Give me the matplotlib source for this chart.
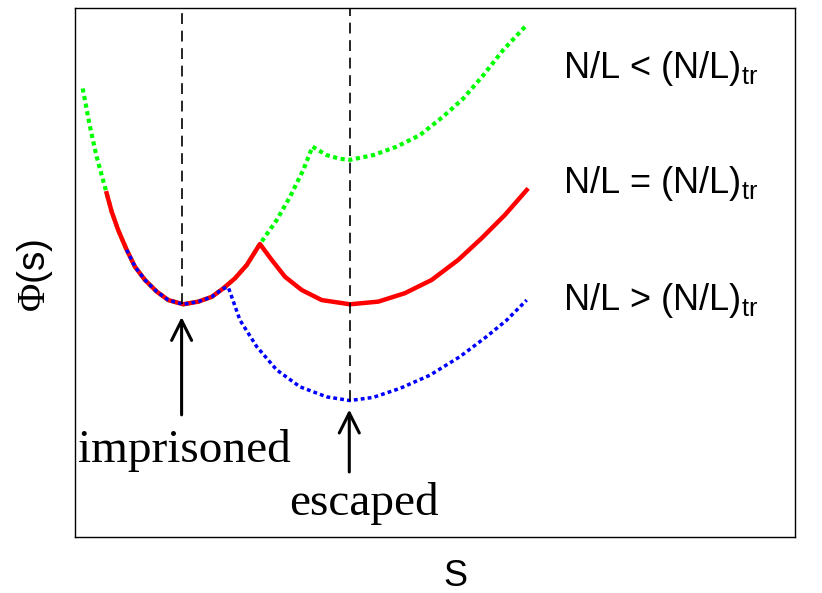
import matplotlib
matplotlib.use('Agg')
import matplotlib.pyplot as plt
import numpy as np

plt.rcParams['font.family'] = ['Liberation Sans', 'DejaVu Sans']
plt.rcParams['mathtext.fontset'] = 'custom'
plt.rcParams['mathtext.rm'] = 'Liberation Serif'

# shared left well of the potential, Phi(s)
s_left = [0.107, 0.208, 0.301, 0.440, 0.510, 0.601, 0.718, 0.833, 0.972, 1.135,
          1.296, 1.504, 1.713, 1.899, 2.060, 2.222, 2.385, 2.569, 2.801, 2.986,
          3.171, 3.299]
phi_left = [8.48, 7.76, 7.19, 6.50, 6.15, 5.80, 5.43, 5.11, 4.86, 4.64,
            4.48, 4.40, 4.45, 4.54, 4.70, 4.89, 5.14, 5.54, 5.99, 6.43,
            6.94, 7.38]

# right branches for the three cases
s_right_lt = [3.496, 3.681, 3.819, 4.143, 4.468, 4.792, 5.115, 5.393, 5.671, 5.949, 6.274]
phi_right_lt = [7.22, 7.15, 7.13, 7.22, 7.38, 7.60, 7.95, 8.29, 8.73, 9.21, 9.68]

s_right_eq = [2.732, 2.917, 3.149, 3.426, 3.819, 4.213, 4.583, 4.954, 5.324,
              5.649, 5.972, 6.274]
phi_right_eq = [5.24, 4.92, 4.67, 4.48, 4.40, 4.45, 4.61, 4.86, 5.24,
                5.65, 6.09, 6.56]

s_right_gt = [2.130, 2.292, 2.524, 2.801, 3.125, 3.496, 3.819, 4.143, 4.514,
              4.931, 5.347, 5.718, 5.996, 6.274]
phi_right_gt = [4.72, 4.10, 3.60, 3.16, 2.84, 2.65, 2.58, 2.64, 2.81,
                3.06, 3.41, 3.79, 4.10, 4.48]

# which part of the left well each curve uses (start s, crossing s)
left_range_lt = (0.10, 3.30)
left_range_eq = (0.43, 2.57)
left_range_gt = (0.71, 2.07)

s_imprisoned, phi_imprisoned = 1.482, 4.40
s_escaped, phi_escaped = 3.819, 2.58

labels = [r'N/L < (N/L)$_{\mathregular{tr}}$',
          r'N/L = (N/L)$_{\mathregular{tr}}$',
          r'N/L > (N/L)$_{\mathregular{tr}}$']
label_phi = [8.67, 6.50, 4.29]


def join(rng, s_r, phi_r):
    sl = np.array(s_left)
    pl = np.array(phi_left)
    keep = (sl >= rng[0]) & (sl <= rng[1])
    return np.r_[sl[keep], s_r], np.r_[pl[keep], phi_r]


fig = plt.figure(figsize=(8.22, 5.93), dpi=100)
ax = fig.add_axes([0.0912, 0.0944, 0.8759, 0.892])

x, y = join(left_range_lt, s_right_lt, phi_right_lt)
ax.plot(x, y, color='#00ff00', lw=3.0, ls=(0, (1, 0.85)), zorder=2)
x, y = join(left_range_eq, s_right_eq, phi_right_eq)
ax.plot(x, y, color='#ff0000', lw=3.2, zorder=3, solid_joinstyle='round')
x, y = join(left_range_gt, s_right_gt, phi_right_gt)
ax.plot(x, y, color='#0000ff', lw=2.5, ls=(0, (1.1, 0.9)), zorder=4)

# dashed guides down to the two minima
ax.vlines([s_imprisoned, s_escaped], [phi_imprisoned, phi_escaped], 10,
          color='black', lw=1.2, linestyles=[(0, (6.5, 4))], zorder=5)

arrow = dict(arrowstyle='->,head_length=0.4,head_width=0.2', lw=2.2,
             color='black', mutation_scale=36, shrinkA=0, shrinkB=0)
ax.annotate('', xy=(1.481, 4.16), xytext=(1.481, 2.31), arrowprops=arrow)
ax.annotate('', xy=(3.81, 2.41), xytext=(3.81, 1.23), arrowprops=arrow)

ax.text(1.52, 1.42, 'imprisoned', family='Liberation Serif', fontsize=34,
        ha='center', va='baseline')
ax.text(4.01, 0.42, 'escaped', family='Liberation Serif', fontsize=34,
        ha='center', va='baseline')

for txt, py in zip(labels, label_phi):
    ax.text(6.78, py, txt, fontsize=26, ha='left', va='baseline')

ax.set_xlim(0, 10)
ax.set_ylim(0, 10)
ax.set_xticks([])
ax.set_yticks([])
for sp in ax.spines.values():
    sp.set_linewidth(1.0)

fig.text(455 / 822, 1 - 576 / 593, 'S', fontsize=26, ha='center', va='center')
fig.text(35 / 822, 1 - 275 / 593, r'$\mathrm{\Phi}$(s)', fontsize=28,
         rotation=90, ha='center', va='center')

fig.savefig('out.png', dpi=100)
